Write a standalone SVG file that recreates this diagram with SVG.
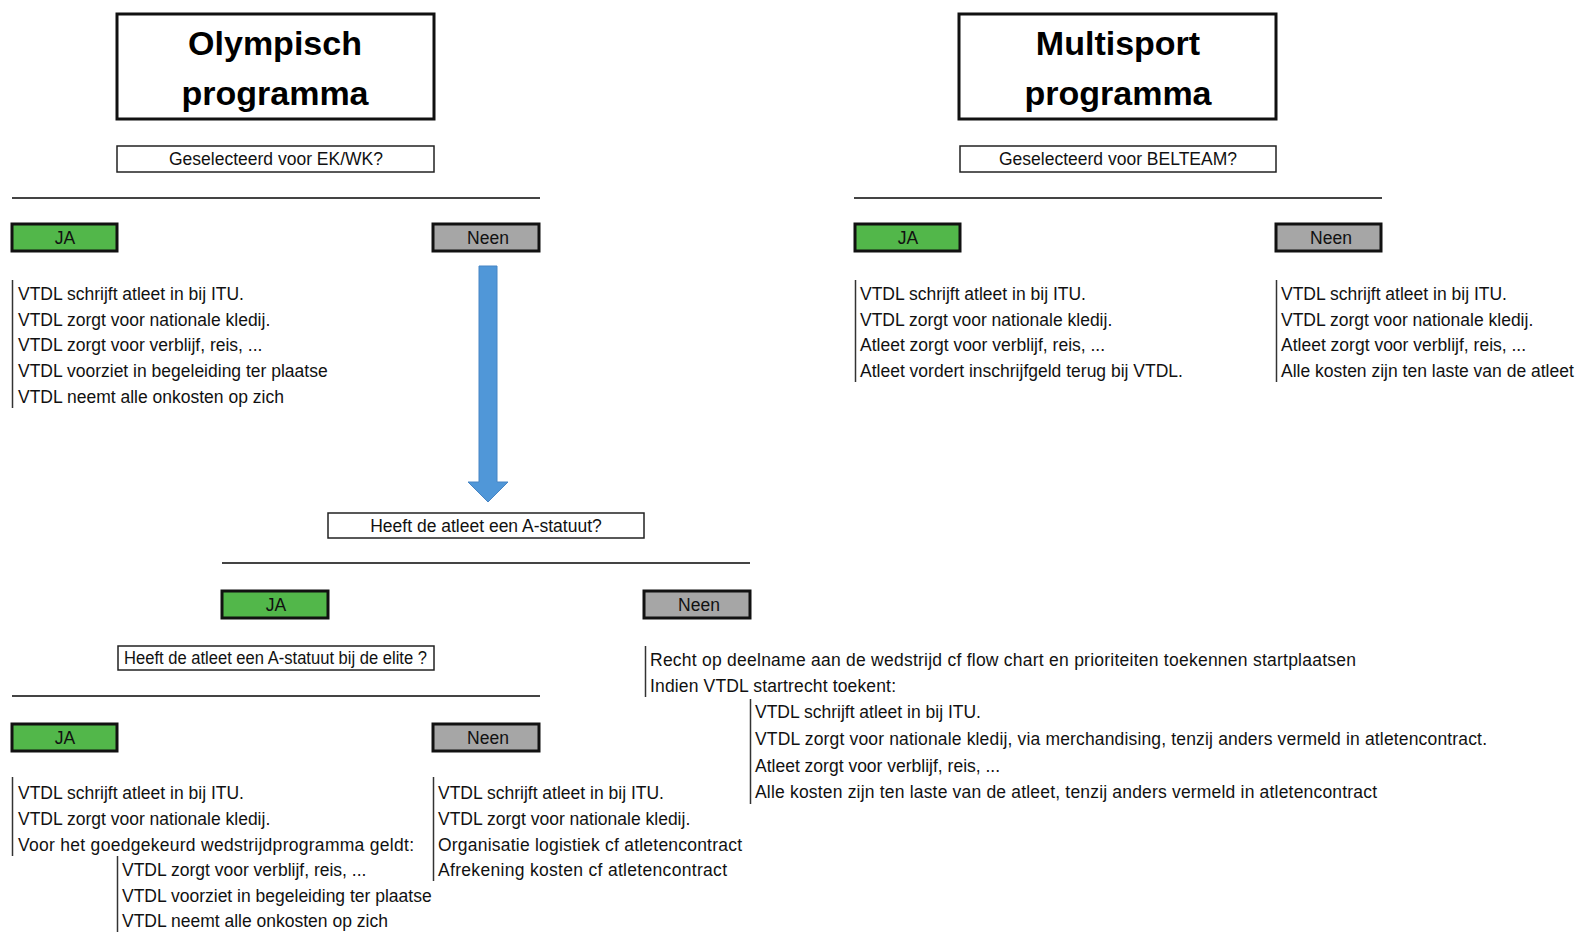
<svg xmlns="http://www.w3.org/2000/svg" width="1583" height="932" viewBox="0 0 1583 932">
<style>
.t{font-family:"Liberation Sans",Arial,sans-serif;font-size:17.5px;fill:#111}
.c{text-anchor:middle}
.title{font-family:"Liberation Sans",Arial,sans-serif;font-size:34px;font-weight:bold;fill:#000;text-anchor:middle}
.tbox{fill:#fff;stroke:#111;stroke-width:3}
.qbox{fill:#fff;stroke:#222;stroke-width:1.5}
.ja{fill:#52b74a;stroke:#111;stroke-width:3}
.neen{fill:#a6a6a6;stroke:#111;stroke-width:3}
.bar{stroke:#333;stroke-width:1.5}
.hl{stroke:#444;stroke-width:2}
</style>
<rect width="1583" height="932" fill="#fff"/>
<g id="connectors">
<line class="hl" x1="12" y1="198" x2="540" y2="198"/>
<line class="hl" x1="854" y1="198" x2="1382" y2="198"/>
<line class="hl" x1="222" y1="563" x2="750" y2="563"/>
<line class="hl" x1="12" y1="696" x2="540" y2="696"/>
<polygon points="479,266 497,266 497,482 508,482 488,502 468,482 479,482" fill="#5097d8" stroke="#4785c4" stroke-width="1"/>
</g>
<g id="title-olympisch">
<rect class="tbox" x="117" y="14" width="317" height="105"/>
<text class="title" x="275" y="55">Olympisch</text>
<text class="title" x="275" y="105">programma</text>
</g>
<g id="title-multisport">
<rect class="tbox" x="959" y="14" width="317" height="105"/>
<text class="title" x="1118" y="55">Multisport</text>
<text class="title" x="1118" y="105">programma</text>
</g>
<g id="q-ekwk">
<rect class="qbox" x="117" y="146" width="317" height="26"/>
<text class="t c" x="276" y="165">Geselecteerd voor EK/WK?</text>
</g>
<g id="q-belteam">
<rect class="qbox" x="960" y="146" width="316" height="26"/>
<text class="t c" x="1118" y="165">Geselecteerd voor BELTEAM?</text>
</g>
<g id="ja-1">
<rect class="ja" x="12" y="224" width="105" height="27"/>
<text class="t c" x="65" y="244">JA</text>
</g>
<g id="neen-1">
<rect class="neen" x="433" y="224" width="106" height="27"/>
<text class="t c" x="488" y="244">Neen</text>
</g>
<g id="ja-2">
<rect class="ja" x="855" y="224" width="105" height="27"/>
<text class="t c" x="908" y="244">JA</text>
</g>
<g id="neen-2">
<rect class="neen" x="1276" y="224" width="105" height="27"/>
<text class="t c" x="1331" y="244">Neen</text>
</g>
<g id="list-ja-1">
<line class="bar" x1="12.5" y1="280" x2="12.5" y2="408"/>
<text class="t" x="18" y="300">VTDL schrijft atleet in bij ITU.</text>
<text class="t" x="18" y="326">VTDL zorgt voor nationale kledij.</text>
<text class="t" x="18" y="351">VTDL zorgt voor verblijf, reis, ...</text>
<text class="t" x="18" y="377">VTDL voorziet in begeleiding ter plaatse</text>
<text class="t" x="18" y="403">VTDL neemt alle onkosten op zich</text>
</g>
<g id="list-ja-2">
<line class="bar" x1="855.5" y1="280" x2="855.5" y2="382"/>
<text class="t" x="860" y="300">VTDL schrijft atleet in bij ITU.</text>
<text class="t" x="860" y="326">VTDL zorgt voor nationale kledij.</text>
<text class="t" x="860" y="351">Atleet zorgt voor verblijf, reis, ...</text>
<text class="t" x="860" y="377">Atleet vordert inschrijfgeld terug bij VTDL.</text>
</g>
<g id="list-neen-2">
<line class="bar" x1="1276.5" y1="280" x2="1276.5" y2="382"/>
<text class="t" x="1281" y="300">VTDL schrijft atleet in bij ITU.</text>
<text class="t" x="1281" y="326">VTDL zorgt voor nationale kledij.</text>
<text class="t" x="1281" y="351">Atleet zorgt voor verblijf, reis, ...</text>
<text class="t" x="1281" y="377">Alle kosten zijn ten laste van de atleet</text>
</g>
<g id="q-astatuut">
<rect class="qbox" x="328" y="513" width="316" height="25"/>
<text class="t c" x="486" y="532">Heeft de atleet een A-statuut?</text>
</g>
<g id="ja-3">
<rect class="ja" x="222" y="591" width="106" height="27"/>
<text class="t c" x="276" y="611">JA</text>
</g>
<g id="neen-3">
<rect class="neen" x="644" y="591" width="106" height="27"/>
<text class="t c" x="699" y="611">Neen</text>
</g>
<g id="list-neen-3">
<line class="bar" x1="645.5" y1="646" x2="645.5" y2="697"/>
<text class="t" x="650" y="666" textLength="706" lengthAdjust="spacing">Recht op deelname aan de wedstrijd cf flow chart en prioriteiten toekennen startplaatsen</text>
<text class="t" x="650" y="692" textLength="246" lengthAdjust="spacing">Indien VTDL startrecht toekent:</text>
<line class="bar" x1="750.5" y1="699" x2="750.5" y2="804"/>
<text class="t" x="755" y="718">VTDL schrijft atleet in bij ITU.</text>
<text class="t" x="755" y="745" textLength="732" lengthAdjust="spacing">VTDL zorgt voor nationale kledij, via merchandising, tenzij anders vermeld in atletencontract.</text>
<text class="t" x="755" y="772">Atleet zorgt voor verblijf, reis, ...</text>
<text class="t" x="755" y="798" textLength="622" lengthAdjust="spacing">Alle kosten zijn ten laste van de atleet, tenzij anders vermeld in atletencontract</text>
</g>
<g id="q-elite">
<rect class="qbox" x="118" y="646" width="316" height="24"/>
<text class="t" x="124" y="664" textLength="303" lengthAdjust="spacingAndGlyphs">Heeft de atleet een A-statuut bij de elite ?</text>
</g>
<g id="ja-4">
<rect class="ja" x="12" y="724" width="105" height="27"/>
<text class="t c" x="65" y="744">JA</text>
</g>
<g id="neen-4">
<rect class="neen" x="433" y="724" width="106" height="27"/>
<text class="t c" x="488" y="744">Neen</text>
</g>
<g id="list-ja-4">
<line class="bar" x1="12.5" y1="777" x2="12.5" y2="856"/>
<text class="t" x="18" y="799">VTDL schrijft atleet in bij ITU.</text>
<text class="t" x="18" y="825">VTDL zorgt voor nationale kledij.</text>
<text class="t" x="18" y="851" textLength="396" lengthAdjust="spacing">Voor het goedgekeurd wedstrijdprogramma geldt:</text>
<line class="bar" x1="117.5" y1="856" x2="117.5" y2="932"/>
<text class="t" x="122" y="876">VTDL zorgt voor verblijf, reis, ...</text>
<text class="t" x="122" y="902">VTDL voorziet in begeleiding ter plaatse</text>
<text class="t" x="122" y="927">VTDL neemt alle onkosten op zich</text>
</g>
<g id="list-neen-4">
<line class="bar" x1="433.5" y1="777" x2="433.5" y2="881"/>
<text class="t" x="438" y="799">VTDL schrijft atleet in bij ITU.</text>
<text class="t" x="438" y="825">VTDL zorgt voor nationale kledij.</text>
<text class="t" x="438" y="851" textLength="304" lengthAdjust="spacing">Organisatie logistiek cf atletencontract</text>
<text class="t" x="438" y="876" textLength="289" lengthAdjust="spacing">Afrekening kosten cf atletencontract</text>
</g>
</svg>
